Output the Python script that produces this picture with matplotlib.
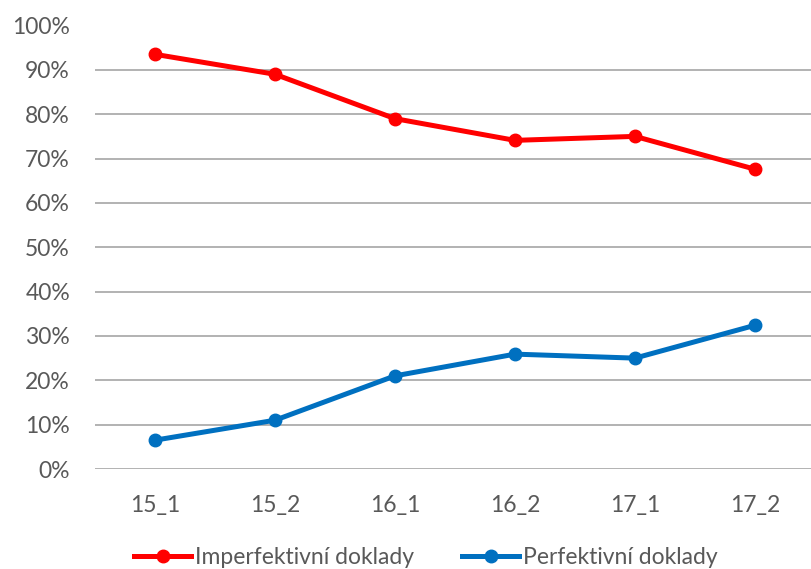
import matplotlib
matplotlib.use("Agg")
import matplotlib.pyplot as plt
from matplotlib.ticker import PercentFormatter

# Data: share of each aspect per period
periods = ["15_1", "15_2", "16_1", "16_2", "17_1", "17_2"]
imperfective = [93.5, 89.0, 79.0, 74.1, 75.0, 67.6]
perfective = [6.5, 11.0, 21.0, 25.9, 25.0, 32.4]

plt.rcParams['font.family'] = ['Lato', 'DejaVu Sans']
text_col = '#595959'

fig = plt.figure(figsize=(8.11, 5.69), dpi=100)
ax = fig.add_axes([95/811, 100/569, 716/811, 443.5/569])

x = range(len(periods))
ax.plot(x, imperfective, color='#FF0000', lw=3.6, marker='o', ms=9,
        label='Imperfektivní doklady')
ax.plot(x, perfective, color='#0070C0', lw=3.6, marker='o', ms=9,
        label='Perfektivní doklady')

ax.set_ylim(0, 100)
ax.set_xlim(-0.5, 5.467)
ax.set_yticks(range(0, 101, 10))
ax.yaxis.set_major_formatter(PercentFormatter(decimals=0))
ax.set_xticks(list(x))
ax.set_xticklabels(periods)
ax.grid(axis='y', color='#A6A6A6', lw=1.2)
ax.set_axisbelow(True)
for s in ax.spines.values():
    s.set_visible(False)
ax.tick_params(length=0, labelsize=16.5, colors=text_col)
ax.tick_params(axis='y', pad=18)
ax.tick_params(axis='x', pad=19)

fig.legend(loc='center', bbox_to_anchor=(0.525, 0.02), ncol=2, frameon=False,
           fontsize=16.5, labelcolor=text_col, handlelength=2.5, handletextpad=0.15,
           columnspacing=2.1)

fig.savefig('out.png', dpi=100)
